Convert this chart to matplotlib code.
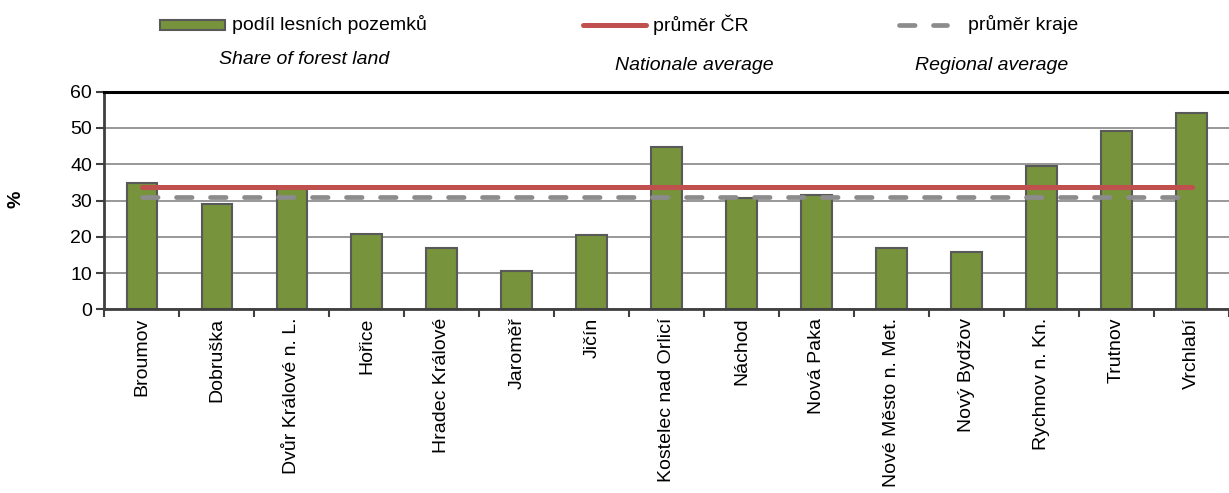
import numpy as np
import matplotlib
matplotlib.use('Agg')
import matplotlib.pyplot as plt
from matplotlib.lines import Line2D
from matplotlib.patches import Rectangle

plt.rcParams['font.family'] = ['Liberation Sans', 'DejaVu Sans']

# data
towns = ['Broumov', 'Dobruška', 'Dvůr Králové n. L.', 'Hořice', 'Hradec Králové',
         'Jaroměř', 'Jičín', 'Kostelec nad Orlicí', 'Náchod', 'Nová Paka',
         'Nové Město n. Met.', 'Nový Bydžov', 'Rychnov n. Kn.', 'Trutnov', 'Vrchlabí']
forest_share = [34.8, 29.0, 33.8, 20.9, 16.9, 10.7, 20.4, 44.8, 30.8, 31.4,
                16.9, 15.9, 39.6, 49.1, 54.0]
cr_average = 33.8
region_average = 31.1
yticks = [0, 10, 20, 30, 40, 50, 60]

green = '#77933C'
edge = '#595959'
red = '#C0504D'
grey = '#8C8C8C'

fig = plt.figure(figsize=(12.29, 4.93), dpi=100)
ax = fig.add_axes([0.085, 0.3726, 0.915, 0.4414])

x = np.arange(len(towns))
ax.bar(x, forest_share, width=0.41, color=green, edgecolor=edge, linewidth=1.5, zorder=2)

ax.plot([x[0], x[-1]], [cr_average, cr_average], color=red, lw=3.6,
        solid_capstyle='round', zorder=3)
ax.plot([x[0], x[-1]], [region_average, region_average], color=grey, lw=3.4,
        dashes=(3.3, 3.9), dash_capstyle='round', zorder=3)

ax.set_ylim(0, 60)
ax.set_xlim(-0.5, 14.41)
ax.set_yticks(yticks)
ax.set_yticklabels([str(v) for v in yticks], fontsize=14)
ax.yaxis.grid(True, color='#868686', lw=1.2, zorder=0)
ax.set_axisbelow(True)

ax.set_xticks(x)
ax.set_xticklabels(towns, rotation=90, fontsize=14)
ax.tick_params(axis='x', length=0, pad=6)
ax.set_xticks(np.arange(-0.5, 15, 1), minor=True)
ax.tick_params(axis='x', which='minor', length=6, width=1.5, color='#404040', direction='out')
ax.tick_params(axis='y', length=6, width=1.5, color='#404040', direction='out', pad=3)

for s in ['left', 'bottom']:
    ax.spines[s].set_color('#404040')
    ax.spines[s].set_linewidth(2)
ax.spines['right'].set_visible(False)
ax.spines['top'].set_color('black')
ax.spines['top'].set_linewidth(2.2)

fig.text(0.013, 0.595, '%', rotation=90, fontsize=14, fontweight='bold',
         ha='center', va='center')

# legend row drawn by hand in figure pixels
W, H = 1229.0, 493.0
def fx(px):
    return px / W
def fy(py):
    return 1 - py / H

fig.add_artist(Rectangle((fx(160), fy(30)), 65 / W, 10 / H, transform=fig.transFigure,
                         facecolor=green, edgecolor=edge, lw=1.5))
fig.text(fx(232), fy(25), 'podíl lesních pozemků', fontsize=14, va='center')
fig.add_artist(Line2D([fx(583), fx(646)], [fy(25), fy(25)], transform=fig.transFigure,
                      color=red, lw=3.6, solid_capstyle='round'))
fig.text(fx(653), fy(25), 'průměr ČR', fontsize=14, va='center')
fig.add_artist(Line2D([fx(899), fx(947)], [fy(25), fy(25)], transform=fig.transFigure,
                      color=grey, lw=3.4, dashes=(3.3, 3.9), dash_capstyle='round'))
fig.text(fx(968), fy(25), 'průměr kraje', fontsize=14, va='center')

fig.text(fx(304), fy(60), 'Share of forest land', fontsize=14, style='italic',
         ha='center', va='center')
fig.text(fx(694), fy(66), 'Nationale average', fontsize=14, style='italic',
         ha='center', va='center')
fig.text(fx(992), fy(66), 'Regional average', fontsize=14, style='italic',
         ha='center', va='center')

fig.savefig('out.png', dpi=100)
